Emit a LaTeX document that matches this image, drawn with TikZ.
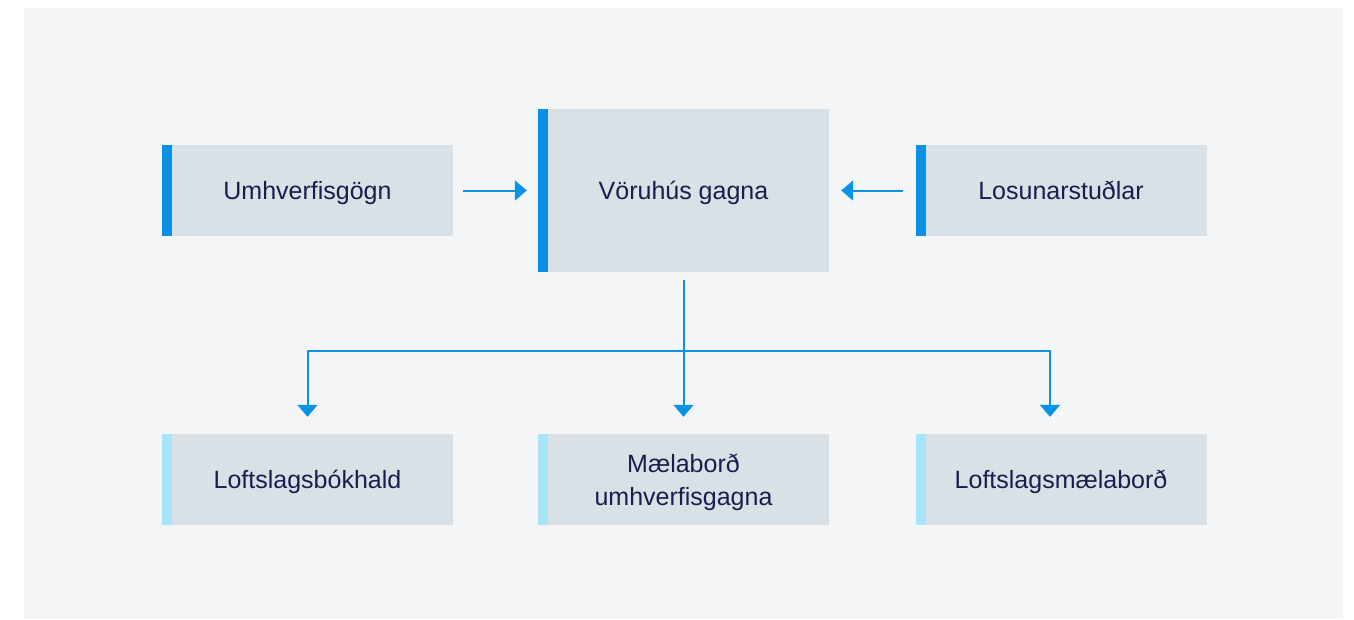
\documentclass[tikz,border=0pt]{standalone}
\usepackage{fontspec}
\setmainfont{Liberation Sans}
\usetikzlibrary{arrows.meta}

\definecolor{bgcol}{HTML}{F4F5F7}
\definecolor{boxcol}{HTML}{D9E1E7}
\definecolor{barcol}{HTML}{0A91E6}
\definecolor{barlight}{HTML}{A6E4FA}
\definecolor{txtcol}{HTML}{1C1C4E}
\definecolor{arrcol}{HTML}{0A93E6}

\tikzset{
    box/.style={rectangle, fill=boxcol, text=txtcol, align=center,
        minimum width=291pt, minimum height=91pt, inner sep=0pt,
        font=\fontsize{25}{33}\selectfont},
    oneline/.style={text height=18pt, text depth=0pt},
    bar/.style={path picture={\fill[#1] (path picture bounding box.south west)
        rectangle ([xshift=10pt]path picture bounding box.north west);}},
    srcbox/.style={box, oneline, bar=barcol},
    outbox/.style={box, oneline, bar=barlight},
    arr/.style={draw=arrcol, line width=2pt, -{Triangle[length=12pt,width=20pt]}}
}

\begin{document}
\begin{tikzpicture}[x=1pt, y=-1pt]
    \useasboundingbox (0,0) rectangle (1354,619);
    \fill[bgcol] (24,8) rectangle (1343,619);

    % top row
    \node [srcbox] (umh) at (307.5,190.5) {Umhverfisgögn};
    \node [srcbox, minimum height=163pt] (vor) at (683.5,190.5) {Vöruhús gagna};
    \node [srcbox] (los) at (1061,190.5) {Losunarstuðlar};

    % bottom row
    \node [outbox] (lof) at (307.5,479.5) {Loftslagsbókhald};
    \node [box, bar=barlight, text depth=0pt] (mael) at (683.5,479.5) {Mælaborð\\umhverfisgagna};
    \node [outbox] (lofm) at (1061,479.5) {Loftslagsmælaborð};

    \draw [arr] ([xshift=10pt]umh.east) -- ([xshift=-11pt]vor.west);
    \draw [arr] ([xshift=-12pt]los.west) -- ([xshift=12pt]vor.east);

    \coordinate (split) at (683.5,351);
    \draw [arr] ([yshift=-8pt]vor.south) -- ([yshift=17pt]mael.north);
    \draw [arr] (split) -| ([yshift=17pt]lof.north);
    \draw [arr] (split) -| ([xshift=-11pt,yshift=17pt]lofm.north);
\end{tikzpicture}
\end{document}
